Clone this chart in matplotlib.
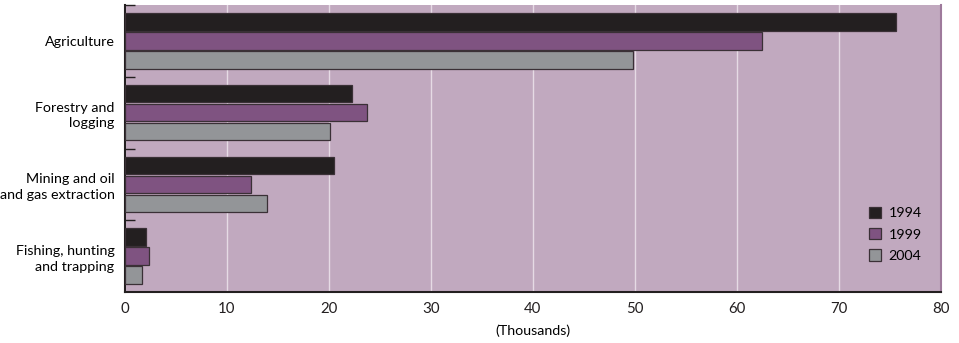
import matplotlib.pyplot as plt
import numpy as np

plt.rcParams["font.family"] = ["Lato", "DejaVu Sans"]

categories = ["Agriculture", "Forestry and\nlogging", "Mining and oil\nand gas extraction",
              "Fishing, hunting\nand trapping"]
years = ["1994", "1999", "2004"]
values_1994 = [75.6, 22.3, 20.5, 2.1]
values_1999 = [62.5, 23.7, 12.4, 2.4]
values_2004 = [49.8, 20.1, 13.9, 1.7]
x_ticks = [0, 10, 20, 30, 40, 50, 60, 70, 80]

colors = ["#231f20", "#7f5381", "#939598"]
background = "#c1a9bf"

fig = plt.figure(figsize=(9.59, 3.43), dpi=100)
ax = fig.add_axes([0.1303, 0.1487, 0.8509, 0.8367])
ax.set_facecolor(background)

centers = np.arange(len(categories))[::-1].astype(float)
offsets = [-0.265, 0.0, 0.265]
for series, offset, color, year in zip([values_1994, values_1999, values_2004],
                                       offsets, colors, years):
    ax.barh(centers - offset, series, height=0.245, color=color,
            edgecolor="#3a3036", linewidth=0.9, label=year, zorder=3)

ax.set_xlim(0, 80)
ax.set_ylim(-0.5, len(categories) - 0.5)
ax.set_xticks(x_ticks)
ax.tick_params(axis="x", length=0, labelsize=10.8, pad=7, colors="#231f20")
ax.xaxis.grid(True, color="#e6dbe5", linewidth=1.0, zorder=0)

ax.set_yticks(centers)
ax.set_yticklabels(categories, fontsize=10.3, ha="right", linespacing=1.38)
ax.tick_params(axis="y", length=0, pad=7.5)
ax.set_yticks(np.arange(len(categories)) + 0.5, minor=True)
ax.tick_params(axis="y", which="minor", direction="in", length=7, width=1.0,
               color="#231f20")

ax.set_xlabel("(Thousands)", fontsize=10.3, labelpad=6)

ax.spines["top"].set_visible(False)
ax.spines["right"].set_color("#9e7a9c")
ax.spines["right"].set_linewidth(1.5)
for side in ("left", "bottom"):
    ax.spines[side].set_color("#231f20")
    ax.spines[side].set_linewidth(1.5)

ax.legend(loc="lower right", bbox_to_anchor=(0.992, 0.06), frameon=False,
          fontsize=10.3, handlelength=0.85, handleheight=0.85, handletextpad=0.5,
          labelspacing=0.6)

fig.savefig("out.png", dpi=100)
plt.close(fig)
